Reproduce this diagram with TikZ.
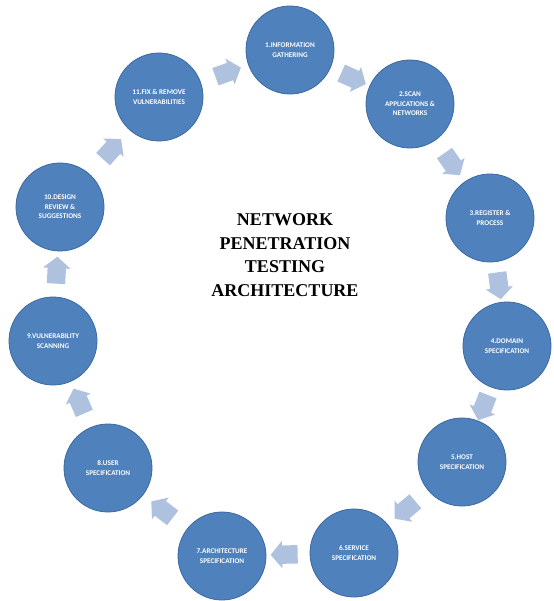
\documentclass[tikz,border=0pt]{standalone}
\usepackage{fontspec}
\setmainfont{Liberation Serif}
\newfontfamily\stepfont{Carlito}
\usetikzlibrary{
	arrows.meta,
	positioning,
	shapes,
	shapes.geometric,
	shapes.arrows,
	calc,
}
\definecolor{PhaseBlue}{HTML}{4F81BD}
\definecolor{PhaseEdge}{HTML}{3C6A9F}
\definecolor{FlowBlue}{HTML}{AEC2DF}

\begin{document}
\begin{tikzpicture} [
			x=1pt,y=-1pt,
			every node/.style={align=center},
			phase/.style={circle,draw=PhaseEdge,fill=PhaseBlue,line width=.8pt,minimum size=88pt,inner sep=0pt,text=white,font=\stepfont\bfseries\fontsize{7.2}{9.5}\selectfont},
			flow/.style={single arrow,fill=FlowBlue,draw=none,minimum width=24pt,minimum height=27pt,inner xsep=0pt,inner ysep=9pt,single arrow head extend=4.5pt,single arrow tip angle=100}
		]
		\useasboundingbox (0,0) rectangle (553,601);

		\node [phase] (p1) at (290,50) {
			1.INFORMATION \\
			GATHERING
		};
		\node [phase] (p2) at (410,104) {
			2.SCAN \\
			APPLICATIONS \& \\
			NETWORKS
		};
		\node [phase] (p3) at (490,218) {
			3.REGISTER \& \\
			PROCESS
		};
		\node [phase] (p4) at (507,346) {
			4.DOMAIN \\
			SPECIFICATION
		};
		\node [phase] (p5) at (462,462) {
			5.HOST \\
			SPECIFICATION
		};
		\node [phase] (p6) at (354,553) {
			6.SERVICE \\
			SPECIFICATION
		};
		\node [phase] (p7) at (222,556) {
			7.ARCHITECTURE \\
			SPECIFICATION
		};
		\node [phase] (p8) at (108,468) {
			8.USER \\
			SPECIFICATION
		};
		\node [phase] (p9) at (53,341) {
			9.VULNERABILITY \\
			SCANNING
		};
		\node [phase] (p10) at (60,207) {
			10.DESIGN \\
			REVIEW \& \\
			SUGGESTIONS
		};
		\node [phase] (p11) at (159,97) {
			11.FIX \& REMOVE \\
			VULNERABILITIES
		};

		\node [font=\bfseries\fontsize{18}{23.5}\selectfont] (title) at (285,255) {
			NETWORK \\
			PENETRATION \\
			TESTING \\
			ARCHITECTURE
		};

		\foreach \a/\b in {p1/p2,p2/p3,p3/p4,p4/p5,p5/p6,p6/p7,p7/p8,p8/p9,p9/p10,p10/p11,p11/p1}
			\path let \p1=($(\b)-(\a)$), \n1={atan2(\y1,\x1)} in
				node [flow,rotate=\n1] (\a-\b) at ($(\a)!.5!(\b)$) {};
	\end{tikzpicture}
\end{document}
